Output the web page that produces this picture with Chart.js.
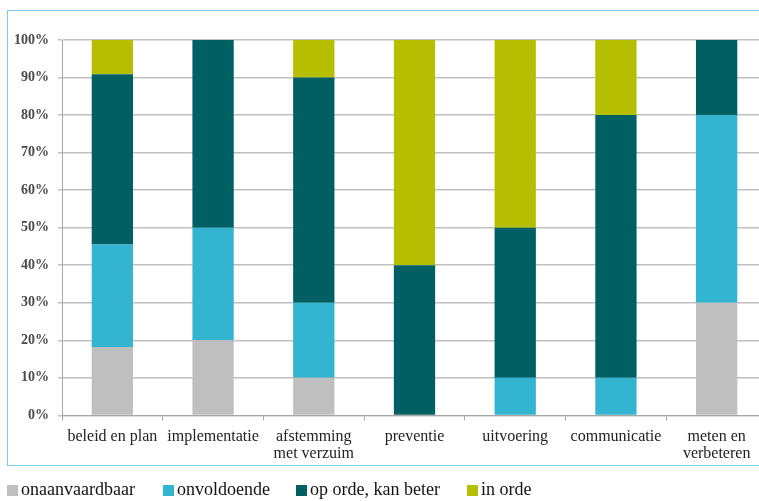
<!DOCTYPE html>
<html>
<head>
<meta charset="utf-8">
<script src="https://cdn.jsdelivr.net/npm/chart.js@4/dist/chart.umd.min.js"></script>
<style>
  html, body { margin: 0; padding: 0; background: #fff; overflow: hidden; width: 759px; height: 501px; }
  #frame { position: absolute; left: 7px; top: 10px; width: 790px; height: 454px; border: 1.5px solid #7fcbe0; }
  #wrap { position: absolute; left: 0; top: 0; width: 767px; height: 501px; }
  #legend { position: absolute; left: 0; top: 478px; width: 759px; height: 22px; font-family: 'Liberation Serif', 'DejaVu Serif', serif; font-size: 18px; color: #111; }
  .item { position: absolute; top: 0; white-space: nowrap; line-height: 22px; }
  .box { display: inline-block; width: 11px; height: 11px; margin-right: 3px; vertical-align: -1px; }
</style>
</head>
<body>
<div id="frame"></div>
<div id="wrap"><canvas id="chart"></canvas></div>
<div id="legend"></div>
<script>
// categories and shares (%)
const categories = ['beleid en plan', 'implementatie', ['afstemming', 'met verzuim'], 'preventie', 'uitvoering', 'communicatie', ['meten en', 'verbeteren']];
const onaanvaardbaar = [18.2, 20, 10, 0, 0, 0, 30];
const onvoldoende = [27.3, 30, 20, 0, 10, 10, 50];
const opOrde = [45.4, 50, 60, 40, 40, 70, 20];
const inOrde = [9.1, 0, 10, 60, 50, 20, 0];
const seriesNames = ['onaanvaardbaar', 'onvoldoende', 'op orde, kan beter', 'in orde'];
const seriesColors = ['#bfbfbf', '#33b5d1', '#005f63', '#b5be00'];

const SERIF = "'Liberation Serif', 'DejaVu Serif', serif";

var ctx = document.getElementById('chart').getContext('2d');
var chart = new Chart(ctx, {
    type: 'bar',
    data: {
        labels: categories,
        datasets: [onaanvaardbaar, onvoldoende, opOrde, inOrde].map(function (d, i) {
            return {
                label: seriesNames[i],
                data: d,
                backgroundColor: seriesColors[i],
                borderWidth: 0,
                categoryPercentage: 1,
                barPercentage: 0.41
            };
        })
    },
    options: {
        responsive: true,
        maintainAspectRatio: false,
        animation: false,
        layout: { padding: { left: 5, top: 40, right: 0, bottom: 31 } },
        plugins: {
            tooltip: { enabled: false },
            legend: { display: false }
        },
        scales: {
            x: {
                stacked: true,
                grid: { drawOnChartArea: false, color: '#a6a6a6', tickLength: 5, offset: true },
                border: { color: '#a6a6a6', width: 1 },
                ticks: { color: '#222', font: { family: SERIF, size: 16, lineHeight: 1.05 }, maxRotation: 0, autoSkip: false, padding: 8 }
            },
            y: {
                stacked: true,
                min: 0,
                max: 100,
                grid: { color: '#c0c0c0', lineWidth: 1.5, tickLength: 4 },
                border: { color: '#a6a6a6', width: 1 },
                ticks: {
                    stepSize: 10,
                    color: '#4a4a4a',
                    padding: 9,
                    font: { family: SERIF, size: 14, weight: 'bold' },
                    callback: function (v) { return v + '%'; }
                }
            }
        }
    }
});

// legend below the frame, built from the series
const legendLeft = [7, 163, 296, 467];
var legend = document.getElementById('legend');
seriesNames.forEach(function (name, i) {
    var item = document.createElement('span');
    item.className = 'item';
    item.style.left = legendLeft[i] + 'px';
    var box = document.createElement('span');
    box.className = 'box';
    box.style.background = seriesColors[i];
    item.appendChild(box);
    item.appendChild(document.createTextNode(name));
    legend.appendChild(item);
});
</script>
</body>
</html>
